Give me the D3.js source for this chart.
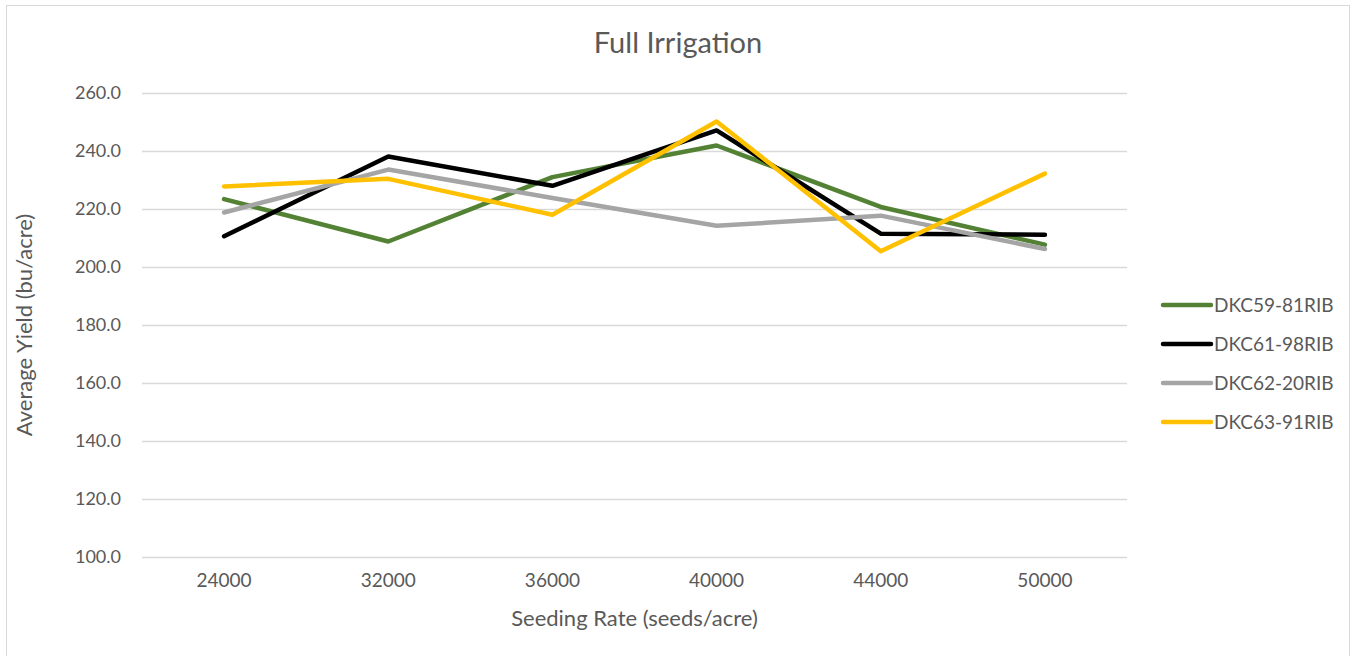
<html>
<head>
<meta charset="utf-8">
<script src="https://d3js.org/d3.v7.min.js"></script>
<style>
  body { margin: 0; background: #fff; }
  text { font-family: Lato, "Open Sans", sans-serif; fill: #595959; }
</style>
</head>
<body>
<div id="chart"></div>
<script>
// seeding rates (x categories)
var rates = ["24000", "32000", "36000", "40000", "44000", "50000"];
var seriesNames = ["DKC59-81RIB", "DKC61-98RIB", "DKC62-20RIB", "DKC63-91RIB"];
var dkc5981 = [223.4, 208.8, 231.0, 241.9, 220.7, 207.7];
var dkc6198 = [210.6, 238.1, 228.0, 247.1, 211.5, 211.1];
var dkc6220 = [218.8, 233.6, 223.8, 214.2, 217.7, 206.2];
var dkc6391 = [227.8, 230.4, 218.0, 250.2, 205.4, 232.2];
var yTicks = [100, 120, 140, 160, 180, 200, 220, 240, 260];
var colors = ["#548235", "#000000", "#a5a5a5", "#ffc000"];

var W = 1351, H = 656;
var margin = { top: 93, right: 224, bottom: 99, left: 142 };
var width = W - margin.left - margin.right,
    height = H - margin.top - margin.bottom;

var svg = d3.select("#chart").append("svg")
    .attr("width", W).attr("height", H);

svg.append("rect")
    .attr("x", 6.5).attr("y", 5.5)
    .attr("width", W - 8).attr("height", H)
    .attr("fill", "#fff").attr("stroke", "#d9d9d9");

svg.append("text")
    .attr("x", 678).attr("y", 53)
    .attr("text-anchor", "middle")
    .style("font-size", "29px")
    .text("Full Irrigation");

var g = svg.append("g")
    .attr("transform", "translate(" + margin.left + "," + margin.top + ")");

var x = d3.scaleBand().domain(rates).range([0, width]);
var y = d3.scaleLinear().domain([100, 260]).range([height, 0]);

// grid
g.append("g")
    .selectAll("line")
    .data(yTicks)
    .enter().append("line")
    .attr("x1", 0).attr("x2", width)
    .attr("y1", d => Math.round(y(d)) + 0.5)
    .attr("y2", d => Math.round(y(d)) + 0.5)
    .attr("stroke", "#d9d9d9").attr("stroke-width", 1.3);

var yAxis = g.append("g")
    .call(d3.axisLeft(y).tickValues(yTicks).tickFormat(d3.format(".1f")).tickSize(0).tickPadding(21));
yAxis.select(".domain").remove();
yAxis.selectAll("text").style("font-size", "18px").attr("fill", "#595959");

var xAxis = g.append("g")
    .attr("transform", "translate(0," + height + ")")
    .call(d3.axisBottom(x).tickSize(0).tickPadding(17));
xAxis.select(".domain").remove();
xAxis.selectAll("text").style("font-size", "19px").attr("fill", "#595959");

svg.append("text")
    .attr("x", margin.left + width / 2).attr("y", 626)
    .attr("text-anchor", "middle")
    .style("font-size", "22px")
    .text("Seeding Rate (seeds/acre)");

svg.append("text")
    .attr("transform", "translate(32," + (margin.top + height / 2) + ") rotate(-90)")
    .attr("text-anchor", "middle")
    .style("font-size", "22px")
    .text("Average Yield (bu/acre)");

var series = [dkc5981, dkc6198, dkc6220, dkc6391];
var line = d3.line()
    .x((d, i) => x(rates[i]) + x.bandwidth() / 2)
    .y(d => y(d));

g.selectAll(".series")
    .data(series)
    .enter().append("path")
    .attr("class", "series")
    .attr("d", line)
    .attr("fill", "none")
    .attr("stroke", (d, i) => colors[i])
    .attr("stroke-width", 4.5)
    .attr("stroke-linejoin", "round")
    .attr("stroke-linecap", "round");

// legend
var legend = svg.append("g");
var items = legend.selectAll("g")
    .data(seriesNames)
    .enter().append("g")
    .attr("transform", (d, i) => "translate(1163," + (305 + i * 39) + ")");
items.append("line")
    .attr("x1", 0).attr("x2", 48)
    .attr("stroke", (d, i) => colors[i])
    .attr("stroke-width", 4.5)
    .attr("stroke-linecap", "round");
items.append("text")
    .attr("x", 51).attr("dy", "0.36em")
    .style("font-size", "19px")
    .text(d => d);
</script>
</body>
</html>
